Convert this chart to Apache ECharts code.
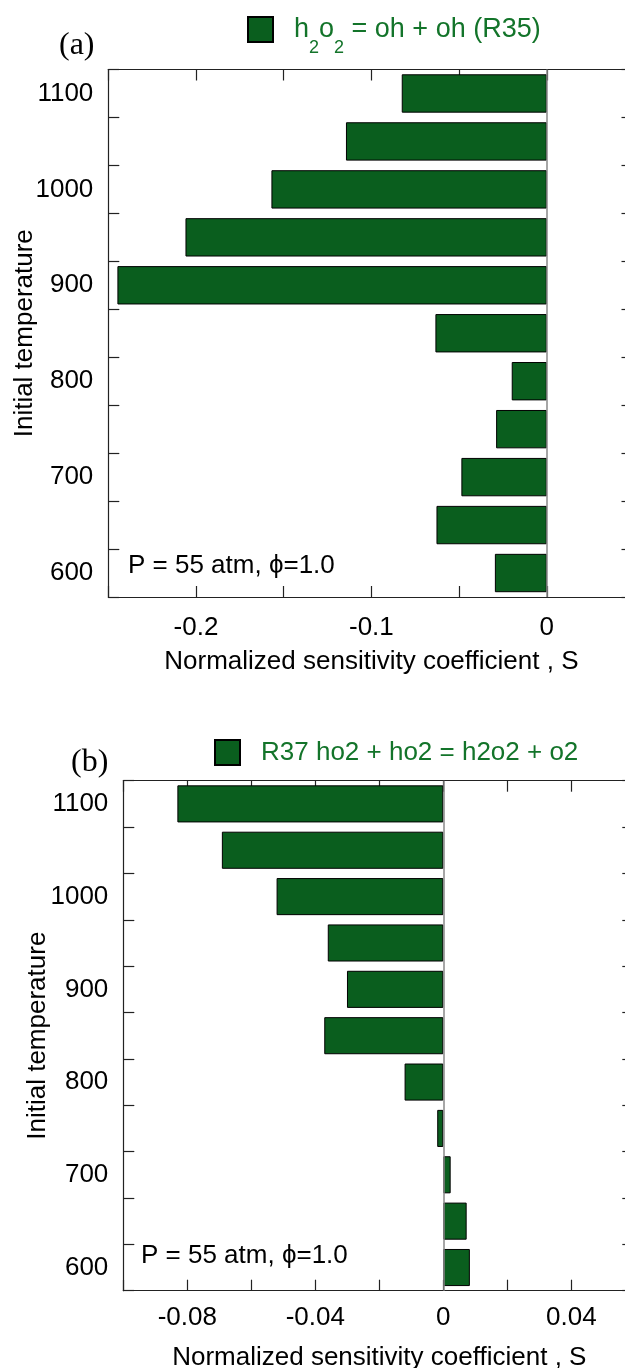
<!DOCTYPE html>
<html>
<head>
<meta charset="utf-8">
<script src="https://cdn.jsdelivr.net/npm/echarts@6/dist/echarts.min.js"></script>
<style>
html,body{margin:0;padding:0;background:#fff;}
#chart{width:625px;height:1368px;}
</style>
</head>
<body>
<div id="chart"></div>
<script>
// ---- data ----
const temperatures = ['600','650','700','750','800','850','900','950','1000','1050','1100'];
const sensR35 = [-0.0296, -0.0629, -0.0487, -0.0289, -0.0200, -0.0635, -0.2448, -0.2060, -0.1570, -0.1145, -0.0827];
const sensR37 = [0.0083, 0.0073, 0.0023, -0.0019, -0.0121, -0.0372, -0.0301, -0.0361, -0.0521, -0.0692, -0.0831];
const tickLabelsA = ['-0.2', '-0.1', '0'];
const tickLabelsB = ['-0.08', '-0.04', '0', '0.04'];
const nameR35 = 'h2o2 = oh + oh (R35)';
const nameR37 = 'R37 ho2 + ho2 = h2o2 + o2';
const xTitle = 'Normalized sensitivity coefficient , S';
const yTitle = 'Initial temperature';
const note = 'P = 55 atm, \u03D5=1.0';

const FONT = '"Liberation Sans", Arial, Helvetica, sans-serif';
const SERIF = '"Liberation Serif", "Times New Roman", serif';
const GREEN = '#0a5e1e';
const TEXTGREEN = '#13742a';
const AX = '#222';

function fmtFactory(list){
  return function(v){
    const s = String(+v.toFixed(4));
    return list.indexOf(s) >= 0 ? s : '';
  };
}

function xAxes(grid, min, max, interval, labels, nameGap, labelMargin){
  const common = {
    gridIndex: grid, type: 'value', min: min, max: max, interval: interval,
    splitLine: {show: false},
    axisLine: {show: true, onZero: false, lineStyle: {color: AX, width: 1.2}},
    axisTick: {show: true, inside: true, length: 11, lineStyle: {color: AX, width: 1.2}}
  };
  return [
    Object.assign({}, common, {
      position: 'bottom',
      axisLabel: {show: true, formatter: fmtFactory(labels), color: '#000', fontSize: 26, fontFamily: FONT, margin: labelMargin, showMinLabel: true, showMaxLabel: true},
      name: xTitle, nameLocation: 'middle', nameGap: nameGap, nameMoveOverlap: false,
      nameTextStyle: {color: '#000', fontSize: 26, fontFamily: FONT}
    }),
    Object.assign({}, common, {position: 'top', axisLabel: {show: false}})
  ];
}

function yAxes(grid, nameGap, labelMargin){
  const common = {
    gridIndex: grid, type: 'category', data: temperatures, boundaryGap: true,
    axisLine: {show: true, onZero: false, lineStyle: {color: AX, width: 1.2}},
    splitLine: {show: false}
  };
  return [
    Object.assign({}, common, {
      position: 'left',
      axisTick: {show: true, inside: true, length: 11, interval: 0, alignWithLabel: false, lineStyle: {color: AX, width: 1.2}},
      axisLabel: {show: true, interval: 1, color: '#000', fontSize: 26, fontFamily: FONT, margin: labelMargin},
      name: yTitle, nameLocation: 'middle', nameGap: nameGap, nameRotate: 90, nameMoveOverlap: false,
      nameTextStyle: {color: '#000', fontSize: 26, fontFamily: FONT}
    }),
    Object.assign({}, common, {
      position: 'right',
      axisTick: {show: true, inside: true, length: 13, interval: 0, alignWithLabel: false, lineStyle: {color: AX, width: 1.2}},
      axisLabel: {show: false}
    })
  ];
}

function barSeries(name, xi, yi, data){
  return {
    name: name, type: 'bar', xAxisIndex: xi, yAxisIndex: yi, data: data,
    barCategoryGap: '20%',
    itemStyle: {color: GREEN, borderColor: '#000', borderWidth: 1},
    markLine: {
      silent: true, symbol: 'none', label: {show: false},
      lineStyle: {color: '#888', width: 1.5, type: 'solid'},
      data: [{xAxis: 0}]
    },
    animation: false
  };
}

const legendRich = {
  sub: {fontSize: 18, fontFamily: FONT, color: TEXTGREEN, padding: [38, 0, 0, 0]}
};

const chart = echarts.init(document.getElementById('chart'), null, {renderer: 'canvas'});
chart.setOption({
  backgroundColor: '#fff',
  animation: false,
  grid: [
    {left: 108.3, top: 69.5, width: 526.2, height: 527.5, containLabel: false, outerBoundsMode: 'none'},
    {left: 123.3, top: 780.7, width: 512, height: 510, containLabel: false, outerBoundsMode: 'none'}
  ],
  legend: [
    {
      data: [nameR35], left: 242, top: 11, itemWidth: 25, itemHeight: 25, icon: 'rect',
      itemStyle: {borderColor: '#000', borderWidth: 2},
      textStyle: {color: TEXTGREEN, fontSize: 27, fontFamily: FONT, padding: [0, 0, 0, 16], rich: legendRich},
      formatter: function(){ return 'h{sub|2}o{sub|2} = oh + oh (R35)'; }
    },
    {
      data: [nameR37], left: 209, top: 734, itemWidth: 25, itemHeight: 25, icon: 'rect',
      itemStyle: {borderColor: '#000', borderWidth: 2},
      textStyle: {color: TEXTGREEN, fontSize: 26, fontFamily: FONT, padding: [0, 0, 0, 16]}
    }
  ],
  xAxis: [].concat(
    xAxes(0, -0.25, 0.05, 0.05, tickLabelsA, 52, 18),
    xAxes(1, -0.1, 0.06, 0.02, tickLabelsB, 54, 14)
  ),
  yAxis: [].concat(
    yAxes(0, 70, 15),
    yAxes(1, 72, 15)
  ),
  series: [
    barSeries(nameR35, 0, 0, sensR35),
    barSeries(nameR37, 2, 2, sensR37)
  ],
  graphic: [
    {type: 'text', left: 59, top: 30, style: {text: '(a)', font: '32px ' + SERIF, fill: '#000'}},
    {type: 'text', left: 71, top: 747, style: {text: '(b)', font: '32px ' + SERIF, fill: '#000'}},
    {type: 'text', left: 128, top: 553, style: {text: note, font: '26px ' + FONT, fill: '#000'}},
    {type: 'text', left: 141, top: 1243, style: {text: note, font: '26px ' + FONT, fill: '#000'}}
  ]
});
</script>
</body>
</html>
